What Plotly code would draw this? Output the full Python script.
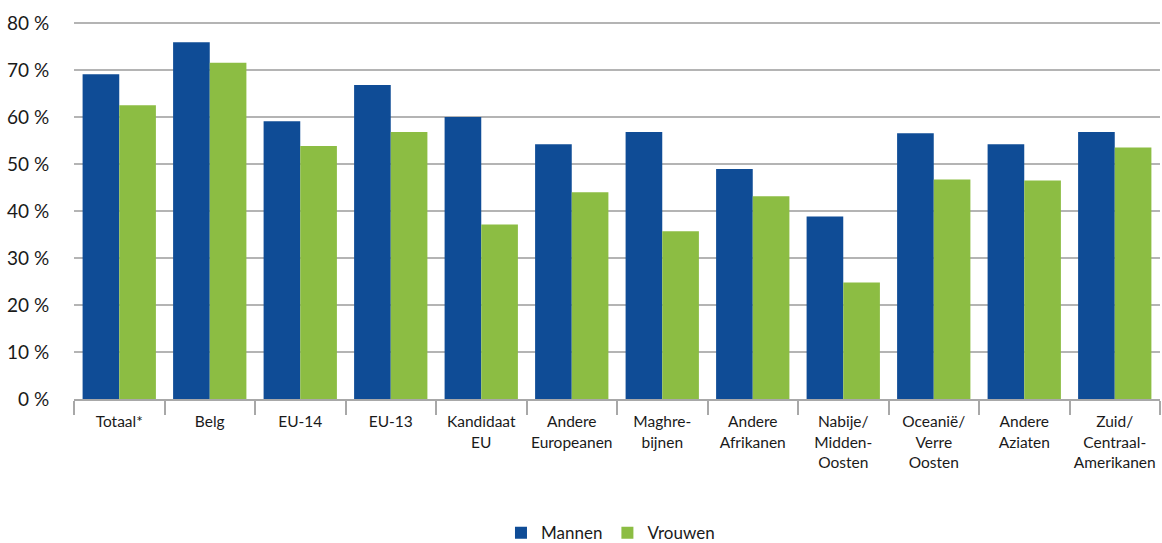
import plotly.graph_objects as go

categories = ["Totaal*", "Belg", "EU-14", "EU-13", "Kandidaat<br>EU", "Andere<br>Europeanen",
              "Maghre-<br>bijnen", "Andere<br>Afrikanen", "Nabije/<br>Midden-<br>Oosten",
              "Oceanië/<br>Verre<br>Oosten", "Andere<br>Aziaten", "Zuid/<br>Centraal-<br>Amerikanen"]
mannen = [69.1, 75.9, 59.1, 66.8, 60.0, 54.2, 56.8, 48.9, 38.8, 56.5, 54.2, 56.8]
vrouwen = [62.5, 71.5, 53.8, 56.8, 37.1, 44.0, 35.7, 43.1, 24.8, 46.7, 46.5, 53.5]
y_ticks = [0, 10, 20, 30, 40, 50, 60, 70, 80]

FONT = "Lato"
fig = go.Figure()
fig.add_trace(go.Bar(name="Mannen", x=categories, y=mannen, marker_color="#0F4C96",
                     marker_line_width=0))
fig.add_trace(go.Bar(name="Vrouwen", x=categories, y=vrouwen, marker_color="#8CBD43",
                     marker_line_width=0))

fig.update_layout(
    width=1162, height=543,
    barmode="group", bargap=0.19, bargroupgap=0,
    plot_bgcolor="white", paper_bgcolor="white",
    margin=dict(l=74, r=2, t=21, b=144, autoexpand=False),
    font=dict(family=FONT, color="#1a1a1a"),
    legend=dict(orientation="h", x=0.494, xanchor="center", y=-0.355,
                yanchor="middle", font=dict(size=17, family=FONT), traceorder="normal"),
    showlegend=True,
)
fig.update_xaxes(
    automargin=False, tickangle=0,
    showline=True, linecolor="#a8a8a8", linewidth=1.5,
    ticks="outside", tickson="boundaries", ticklen=14, tickcolor="#a8a8a8", tickwidth=1.5,
    tickfont=dict(size=15.5, family=FONT), showgrid=False, ticklabelstandoff=8,
)
fig.update_yaxes(
    automargin=False,
    range=[0, 80.4], tickvals=y_ticks, ticktext=[f"{v} %" for v in y_ticks],
    showgrid=True, gridcolor="#b4b4b4", gridwidth=1.5, zeroline=False,
    tickfont=dict(size=19, family=FONT), ticks="outside", ticklen=20, tickcolor="rgba(0,0,0,0)",
)
fig.write_html("out.html", config={"displayModeBar": False},
               post_script="document.body.style.margin='0';document.body.style.overflow='hidden';")
